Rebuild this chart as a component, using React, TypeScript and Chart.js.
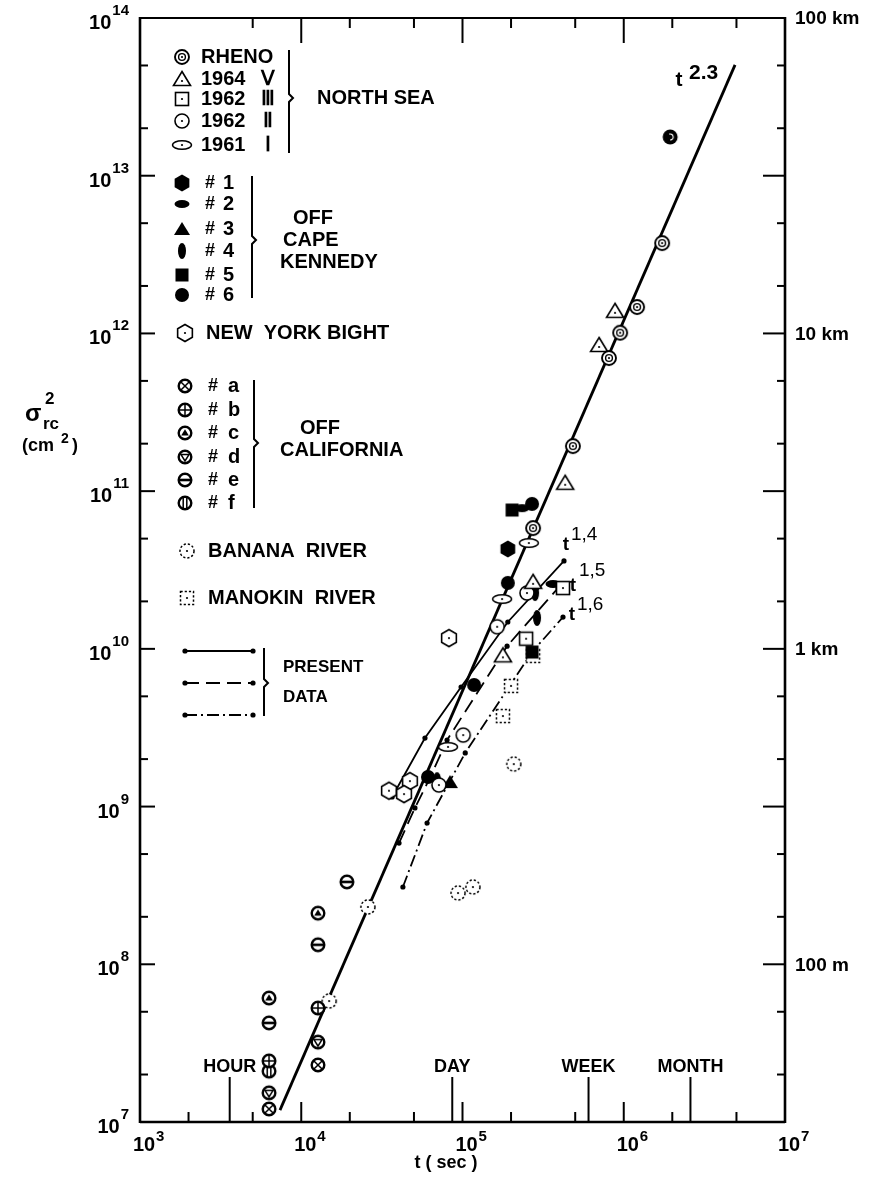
import React, { useEffect, useRef } from "react";
import { Chart, registerables } from "chart.js";

Chart.register(...registerables);

// ---------------- data: t (sec) and sigma_rc^2 (cm^2) ----------------
// NORTH SEA
const rhenoT = [1.94e6, 1.73e6, 1.21e6, 9.5e5, 8.1e5, 4.84e5, 2.74e5];
const rhenoS = [1.76e13, 3.74e12, 1.47e12, 1.01e12, 6.98e11, 1.93e11, 5.83e10];
const ns1964T = [8.83e5, 7.03e5, 4.33e5, 2.74e5, 1.78e5];
const ns1964S = [1.39e12, 8.45e11, 1.13e11, 2.66e10, 9.1e9];
const ns1962IIIT = [4.2e5, 2.48e5];
const ns1962IIIS = [2.43e10, 1.16e10];
const ns1962IIT = [2.51e5, 1.64e5, 1.01e5, 7.14e4];
const ns1962IIS = [2.26e10, 1.38e10, 2.84e9, 1.37e9];
const ns1961T = [2.58e5, 1.76e5, 8.13e4];
const ns1961S = [4.69e10, 2.07e10, 2.39e9];
// OFF CAPE KENNEDY
const cape1T = [1.91e5];
const cape1S = [4.3e10];
const cape2T = [2.34e5, 3.64e5];
const cape2S = [7.8e10, 2.58e10];
const cape3T = [8.36e4];
const cape3S = [1.43e9];
const cape4T = [2.82e5, 2.9e5, 6.95e4];
const cape4S = [2.26e10, 1.57e10, 1.47e9];
const cape5T = [2.03e5, 2.7e5];
const cape5S = [7.59e10, 9.55e9];
const cape6T = [2.7e5, 1.91e5, 1.18e5, 6.11e4];
const cape6S = [8.3e10, 2.62e10, 5.9e9, 1.54e9];
// NEW YORK BIGHT
const nyT = [8.24e4, 4.72e4, 3.5e4, 4.34e4];
const nyS = [1.17e10, 1.45e9, 1.26e9, 1.2e9];
// OFF CALIFORNIA
const calAT = [6.31e3, 1.27e4];
const calAS = [1.21e7, 2.3e7];
const calBT = [6.31e3, 1.27e4];
const calBS = [2.44e7, 5.28e7];
const calCT = [6.31e3, 1.27e4];
const calCS = [6.11e7, 2.11e8];
const calDT = [6.31e3, 1.27e4];
const calDS = [1.53e7, 3.21e7];
const calET = [6.31e3, 1.27e4, 1.92e4];
const calES = [4.25e7, 1.33e8, 3.33e8];
const calFT = [6.31e3];
const calFS = [2.1e7];
// BANANA RIVER, MANOKIN RIVER
const bananaT = [1.49e4, 2.59e4, 9.38e4, 1.16e5, 2.08e5];
const bananaS = [5.85e7, 2.31e8, 2.83e8, 3.09e8, 1.86e9];
const manokinT = [2.74e5, 2.0e5, 1.78e5];
const manokinS = [9.02e9, 5.82e9, 3.75e9];
// PRESENT DATA (three curves)
const presSolidT = [3.66e4, 5.85e4, 9.8e4, 1.91e5, 4.26e5];
const presSolidS = [1.15e9, 2.72e9, 5.73e9, 1.48e10, 3.61e10];
const presDashT = [4.04e4, 5.07e4, 6.28e4, 8.02e4, 1.89e5, 3.91e5];
const presDashS = [5.87e8, 9.8e8, 1.52e9, 2.64e9, 1.04e10, 2.43e10];
const presDashDotT = [4.27e4, 6.03e4, 1.04e5, 2.7e5, 4.2e5];
const presDashDotS = [3.09e8, 7.87e8, 2.19e9, 9.55e9, 1.59e10];
// t^2.3 line
const fitT = [7.38e3, 4.9e6];
const fitS = [1.19e7, 5.04e13];

// axes / labels
const xDecades = [1e3, 1e4, 1e5, 1e6, 1e7];
const yDecades = [1e7, 1e8, 1e9, 1e10, 1e11, 1e12, 1e13, 1e14];
const timeMarks = [3600, 86400, 604800, 2592000];
const timeLabels = ["HOUR", "DAY", "WEEK", "MONTH"];
const rightVals = [1e14, 1e12, 1e10, 1e8];
const rightLabels = ["100 km", "10 km", "1 km", "100 m"];
const slopeExps = ["2.3", "1,4", "1,5", "1,6"];
const northSeaLabels = ["RHENO", "1964", "1962", "1962", "1961"];
const northSeaRoman = ["", "Ⅴ", "Ⅲ", "Ⅱ", "Ⅰ"];
const capeLabels = ["1", "2", "3", "4", "5", "6"];
const califLabels = ["a", "b", "c", "d", "e", "f"];

const FONT = '"Liberation Sans", Arial, sans-serif';
const f = (size: number, w = "bold") => `${w} ${size}px ${FONT}`;

type Ctx = CanvasRenderingContext2D;

function mk(w: number, h: number, draw: (c: Ctx, cx: number, cy: number) => void) {
  const cv = document.createElement("canvas");
  cv.width = w;
  cv.height = h;
  const c = cv.getContext("2d")!;
  c.strokeStyle = "#000";
  c.fillStyle = "#000";
  c.lineWidth = 1.6;
  draw(c, w / 2, h / 2);
  return cv;
}
const dot = (c: Ctx, cx: number, cy: number) => {
  c.fillStyle = "#000";
  c.beginPath();
  c.arc(cx, cy, 1.1, 0, Math.PI * 2);
  c.fill();
};
const hexPath = (c: Ctx, cx: number, cy: number, r: number) => {
  c.beginPath();
  for (let i = 0; i < 6; i++) {
    const a = -Math.PI / 2 + (i * Math.PI) / 3;
    const px = cx + r * Math.cos(a);
    const py = cy + r * Math.sin(a);
    if (i) c.lineTo(px, py);
    else c.moveTo(px, py);
  }
  c.closePath();
};

function makeSymbols() {
  const rheno = mk(20, 20, (c, cx, cy) => {
    c.fillStyle = "#fff";
    c.beginPath();
    c.arc(cx, cy, 7, 0, Math.PI * 2);
    c.fill();
    c.lineWidth = 1.9;
    c.stroke();
    c.lineWidth = 1.4;
    c.beginPath();
    c.arc(cx, cy, 3.4, 0, Math.PI * 2);
    c.stroke();
    dot(c, cx, cy);
  });
  const rhenoDark = mk(20, 20, (c, cx, cy) => {
    c.beginPath();
    c.arc(cx, cy, 7.5, 0, Math.PI * 2);
    c.fill();
    c.strokeStyle = "#fff";
    c.lineWidth = 1.2;
    c.beginPath();
    c.arc(cx, cy, 3, -Math.PI * 0.6, Math.PI * 0.5);
    c.stroke();
  });
  const tri = mk(22, 20, (c, cx, cy) => {
    c.fillStyle = "#fff";
    c.beginPath();
    c.moveTo(cx, cy - 7.5);
    c.lineTo(cx + 8.5, cy + 6.5);
    c.lineTo(cx - 8.5, cy + 6.5);
    c.closePath();
    c.fill();
    c.stroke();
    dot(c, cx, cy + 2);
  });
  const sq = mk(18, 18, (c, cx, cy) => {
    c.fillStyle = "#fff";
    c.fillRect(cx - 6.5, cy - 6.5, 13, 13);
    c.strokeRect(cx - 6.5, cy - 6.5, 13, 13);
    dot(c, cx, cy);
  });
  const circ = mk(18, 18, (c, cx, cy) => {
    c.fillStyle = "#fff";
    c.beginPath();
    c.arc(cx, cy, 7, 0, Math.PI * 2);
    c.fill();
    c.stroke();
    dot(c, cx, cy);
  });
  const ell = mk(24, 14, (c, cx, cy) => {
    c.fillStyle = "#fff";
    c.beginPath();
    c.ellipse(cx, cy, 9.5, 4.3, 0, 0, Math.PI * 2);
    c.fill();
    c.stroke();
    dot(c, cx, cy);
  });
  const hexF = mk(20, 20, (c, cx, cy) => {
    hexPath(c, cx, cy, 8.5);
    c.fill();
  });
  const ellH = mk(20, 14, (c, cx, cy) => {
    c.beginPath();
    c.ellipse(cx, cy, 7.5, 4, 0, 0, Math.PI * 2);
    c.fill();
  });
  const triF = mk(20, 18, (c, cx, cy) => {
    c.beginPath();
    c.moveTo(cx, cy - 7);
    c.lineTo(cx + 8, cy + 6);
    c.lineTo(cx - 8, cy + 6);
    c.closePath();
    c.fill();
  });
  const ellV = mk(14, 20, (c, cx, cy) => {
    c.beginPath();
    c.ellipse(cx, cy, 4, 8, 0, 0, Math.PI * 2);
    c.fill();
  });
  const sqF = mk(16, 16, (c, cx, cy) => {
    c.fillRect(cx - 6.5, cy - 6.5, 13, 13);
  });
  const circF = mk(18, 18, (c, cx, cy) => {
    c.beginPath();
    c.arc(cx, cy, 7, 0, Math.PI * 2);
    c.fill();
  });
  const hexO = mk(22, 22, (c, cx, cy) => {
    c.fillStyle = "#fff";
    hexPath(c, cx, cy, 8.5);
    c.fill();
    c.stroke();
    dot(c, cx, cy);
  });
  const calif = (kind: string) =>
    mk(18, 18, (c, cx, cy) => {
      c.fillStyle = "#fff";
      c.beginPath();
      c.arc(cx, cy, 6.3, 0, Math.PI * 2);
      c.fill();
      c.lineWidth = 2.4;
      c.stroke();
      c.fillStyle = "#000";
      c.lineWidth = 1.5;
      c.beginPath();
      if (kind === "a") {
        c.moveTo(cx - 4.3, cy - 4.3);
        c.lineTo(cx + 4.3, cy + 4.3);
        c.moveTo(cx + 4.3, cy - 4.3);
        c.lineTo(cx - 4.3, cy + 4.3);
        c.stroke();
      } else if (kind === "b") {
        c.moveTo(cx - 6, cy);
        c.lineTo(cx + 6, cy);
        c.moveTo(cx, cy - 6);
        c.lineTo(cx, cy + 6);
        c.stroke();
      } else if (kind === "c") {
        c.moveTo(cx, cy - 3.8);
        c.lineTo(cx + 3.8, cy + 2.6);
        c.lineTo(cx - 3.8, cy + 2.6);
        c.closePath();
        c.fill();
      } else if (kind === "d") {
        c.moveTo(cx - 4, cy - 2.4);
        c.lineTo(cx + 4, cy - 2.4);
        c.lineTo(cx, cy + 4);
        c.closePath();
        c.stroke();
      } else if (kind === "e") {
        c.fillRect(cx - 6, cy - 1.3, 12, 2.6);
      } else {
        c.moveTo(cx - 1.8, cy - 6);
        c.lineTo(cx - 1.8, cy + 6);
        c.moveTo(cx + 1.8, cy - 6);
        c.lineTo(cx + 1.8, cy + 6);
        c.stroke();
      }
    });
  const banana = mk(18, 18, (c, cx, cy) => {
    c.fillStyle = "#fff";
    c.beginPath();
    c.arc(cx, cy, 7, 0, Math.PI * 2);
    c.fill();
    c.setLineDash([2.2, 2]);
    c.lineWidth = 1.5;
    c.stroke();
    c.setLineDash([]);
    dot(c, cx, cy);
  });
  const manokin = mk(18, 18, (c, cx, cy) => {
    c.fillStyle = "#fff";
    c.fillRect(cx - 6.5, cy - 6.5, 13, 13);
    c.setLineDash([2.2, 2]);
    c.lineWidth = 1.5;
    c.strokeRect(cx - 6.5, cy - 6.5, 13, 13);
    c.setLineDash([]);
    dot(c, cx, cy);
  });
  return {
    rheno, rhenoDark, tri, sq, circ, ell, hexF, ellH, triF, ellV, sqF, circF, hexO,
    calA: calif("a"), calB: calif("b"), calC: calif("c"), calD: calif("d"), calE: calif("e"), calF: calif("f"),
    banana, manokin,
  };
}

const pts = (T: number[], S: number[]) => T.map((t, i) => ({ x: t, y: S[i] }));

export default function App() {
  const ref = useRef<HTMLCanvasElement>(null);

  useEffect(() => {
    const canvas = ref.current!;
    const sym = makeSymbols();

    const sc = (T: number[], S: number[], style: any) => ({
      data: pts(T, S),
      pointStyle: style,
      pointRadius: 8,
      pointHoverRadius: 8,
      showLine: false,
      order: 0,
    });
    const ln = (T: number[], S: number[], dash: number[], width: number, pr: number, order: number) => ({
      data: pts(T, S),
      showLine: true,
      fill: false,
      borderColor: "#000",
      borderWidth: width,
      borderDash: dash,
      pointStyle: "circle",
      pointRadius: pr,
      pointHoverRadius: pr,
      pointBackgroundColor: "#000",
      pointBorderColor: "#000",
      pointBorderWidth: 0,
      order,
    });

    const decor = {
      id: "decor",
      afterDraw(chart: any) {
        const ctx: Ctx = chart.ctx;
        const a = chart.chartArea;
        const xs = chart.scales.x;
        const ys = chart.scales.y;
        ctx.save();
        ctx.fillStyle = "#000";
        ctx.strokeStyle = "#000";
        ctx.lineCap = "butt";

        const line = (x1: number, y1: number, x2: number, y2: number, w: number) => {
          ctx.lineWidth = w;
          ctx.beginPath();
          ctx.moveTo(x1, y1);
          ctx.lineTo(x2, y2);
          ctx.stroke();
        };
        const text = (s: string, x: number, y: number, font: string, align: CanvasTextAlign = "left", base: CanvasTextBaseline = "middle") => {
          ctx.font = font;
          ctx.textAlign = align;
          ctx.textBaseline = base;
          ctx.fillText(s, x, y);
        };
        const sup = (base: string, exp: string, x: number, y: number, bf: string, ef: string, align: string, rise: number) => {
          ctx.font = bf;
          const bw = ctx.measureText(base).width;
          ctx.font = ef;
          const ew = ctx.measureText(exp).width;
          const x0 = align === "left" ? x : align === "center" ? x - bw / 2 : x - bw - ew - 1;
          text(base, x0, y, bf, "left", "alphabetic");
          text(exp, x0 + bw + 1, y - rise, ef, "left", "alphabetic");
        };
        const img = (im: HTMLCanvasElement, x: number, y: number) => ctx.drawImage(im, x - im.width / 2, y - im.height / 2);
        const brace = (x: number, y0: number, y1: number, ym: number) => {
          ctx.lineWidth = 2;
          ctx.beginPath();
          ctx.moveTo(x, y0);
          ctx.lineTo(x, ym - 4);
          ctx.lineTo(x + 4, ym);
          ctx.lineTo(x, ym + 4);
          ctx.lineTo(x, y1);
          ctx.stroke();
        };

        // frame
        line(a.left, a.top - 1, a.left, a.bottom + 1, 2.6);
        line(a.right, a.top - 1, a.right, a.bottom + 1, 2.6);
        line(a.left, a.bottom, a.right, a.bottom, 2.6);
        line(a.left, a.top, a.right, a.top, 2);

        // x ticks
        xDecades.forEach((d, i) => {
          const px = xs.getPixelForValue(d);
          if (i > 0 && i < xDecades.length - 1) {
            line(px, a.bottom, px, a.bottom - 20, 2);
            line(px, a.top, px, a.top + 25, 2);
          }
          if (i < xDecades.length - 1) {
            [2, 5].forEach((m) => {
              const q = xs.getPixelForValue(d * m);
              line(q, a.bottom, q, a.bottom - 10, 2);
              if (!(i === 0 && m === 2)) line(q, a.top, q, a.top + 10, 2);
            });
          }
          sup("10", String(Math.round(Math.log10(d))), px + 4, a.bottom + 29, f(20), f(15), "center", 10);
        });
        timeMarks.forEach((t, i) => {
          const px = xs.getPixelForValue(t);
          line(px, a.bottom, px, a.bottom - 45, 2);
          text(timeLabels[i], px, a.bottom - 55, f(18), "center");
        });
        text("t ( sec )", 446, 1163, f(18), "center");

        // y ticks
        yDecades.forEach((d, i) => {
          const py = ys.getPixelForValue(d);
          if (i > 0 && i < yDecades.length - 1) {
            line(a.left, py, a.left + 15, py, 2);
            line(a.right, py, a.right - 22, py, 2);
          }
          if (i < yDecades.length - 1) {
            [2, 5].forEach((m) => {
              const q = ys.getPixelForValue(d * m);
              line(a.left, q, a.left + 8, q, 2);
              line(a.right, q, a.right - 8, q, 2);
            });
          }
          sup("10", String(Math.round(Math.log10(d))), 129, py + 11, f(20), f(15), "right", 14);
        });
        rightVals.forEach((v, i) => {
          text(rightLabels[i], a.right + 10, ys.getPixelForValue(v) + 1, f(19));
        });

        // y title
        text("σ", 25, 414, f(24));
        text("2", 45, 399, f(17));
        text("rc", 43, 424, f(17));
        text("(cm", 22, 446, f(18));
        text("2", 61, 439, f(14));
        text(")", 72, 446, f(18));

        // slope labels
        const ends = [
          { T: fitT, S: fitS, t: [-56, 15], e: [-46, 8], fs: 21 },
          { T: presSolidT, S: presSolidS, t: [2, -16], e: [7, -26], fs: 19 },
          { T: presDashT, S: presDashS, t: [15, -2], e: [21, -17], fs: 19 },
          { T: presDashDotT, S: presDashDotS, t: [9, -2], e: [14, -12], fs: 19 },
        ];
        ends.forEach((en, i) => {
          const n = en.T.length - 1;
          const px = xs.getPixelForValue(en.T[n]);
          const py = ys.getPixelForValue(en.S[n]);
          text("t", px + en.t[0], py + en.t[1], f(en.fs), "center");
          text(slopeExps[i], px + en.e[0], py + en.e[1], f(en.fs, i === 0 ? "bold" : "normal"), "left");
        });

        // legend: North Sea
        const nsSyms = [sym.rheno, sym.tri, sym.sq, sym.circ, sym.ell];
        const nsY = [57, 79, 99, 121, 145];
        nsSyms.forEach((s, i) => {
          img(s, 182, nsY[i]);
          text(northSeaLabels[i], 201, nsY[i], f(20));
          if (northSeaRoman[i]) text(northSeaRoman[i], 268, nsY[i], f(20), "center");
        });
        brace(289, 50, 153, 98);
        text("NORTH SEA", 317, 98, f(20));

        // Cape Kennedy
        const ckSyms = [sym.hexF, sym.ellH, sym.triF, sym.ellV, sym.sqF, sym.circF];
        const ckY = [183, 204, 229, 251, 275, 295];
        ckSyms.forEach((s, i) => {
          img(s, 182, ckY[i]);
          text("#", 210, ckY[i], f(18), "center");
          text(capeLabels[i], 223, ckY[i], f(20));
        });
        brace(252, 176, 298, 240);
        text("OFF", 293, 218, f(20));
        text("CAPE", 283, 240, f(20));
        text("KENNEDY", 280, 262, f(20));

        // New York Bight
        img(sym.hexO, 185, 333);
        text("NEW  YORK BIGHT", 206, 333, f(20));

        // Off California
        const caSyms = [sym.calA, sym.calB, sym.calC, sym.calD, sym.calE, sym.calF];
        const caY = [386, 410, 433, 457, 480, 503];
        caSyms.forEach((s, i) => {
          img(s, 185, caY[i]);
          text("#", 213, caY[i], f(18), "center");
          text(califLabels[i], 228, caY[i], f(20));
        });
        brace(254, 380, 508, 443);
        text("OFF", 300, 428, f(20));
        text("CALIFORNIA", 280, 450, f(20));

        img(sym.banana, 187, 551);
        text("BANANA  RIVER", 208, 551, f(20));
        img(sym.manokin, 187, 598);
        text("MANOKIN  RIVER", 208, 598, f(20));

        // present data legend
        const dashes = [[], [14, 7], [12, 4, 2, 4]];
        [651, 683, 715].forEach((yy, i) => {
          ctx.setLineDash(dashes[i]);
          line(185, yy, 253, yy, 1.8);
          ctx.setLineDash([]);
          [185, 253].forEach((xx) => {
            ctx.beginPath();
            ctx.arc(xx, yy, 2.6, 0, Math.PI * 2);
            ctx.fill();
          });
        });
        brace(264, 648, 716, 683);
        text("PRESENT", 283, 667, f(17));
        text("DATA", 283, 697, f(17));

        ctx.restore();
      },
    };

    const rhenoStyles = rhenoT.map((_, i) => (i === 0 ? sym.rhenoDark : sym.rheno));

    const chart = new Chart(canvas, {
      type: "scatter",
      data: {
        datasets: [
          ln(fitT, fitS, [], 2.8, 0, 10),
          ln(presSolidT, presSolidS, [], 1.8, 2.6, 5),
          ln(presDashT, presDashS, [14, 7], 1.8, 2.6, 5),
          ln(presDashDotT, presDashDotS, [12, 4, 2, 4], 1.8, 2.6, 5),
          sc(rhenoT, rhenoS, rhenoStyles),
          sc(ns1964T, ns1964S, sym.tri),
          sc(ns1962IIIT, ns1962IIIS, sym.sq),
          sc(ns1962IIT, ns1962IIS, sym.circ),
          sc(ns1961T, ns1961S, sym.ell),
          sc(cape1T, cape1S, sym.hexF),
          sc(cape2T, cape2S, sym.ellH),
          sc(cape3T, cape3S, sym.triF),
          sc(cape4T, cape4S, sym.ellV),
          sc(cape5T, cape5S, sym.sqF),
          sc(cape6T, cape6S, sym.circF),
          sc(nyT, nyS, sym.hexO),
          sc(calAT, calAS, sym.calA),
          sc(calBT, calBS, sym.calB),
          sc(calCT, calCS, sym.calC),
          sc(calDT, calDS, sym.calD),
          sc(calET, calES, sym.calE),
          sc(calFT, calFS, sym.calF),
          sc(bananaT, bananaS, sym.banana),
          sc(manokinT, manokinS, sym.manokin),
        ] as any,
      },
      options: {
        responsive: false,
        animation: false,
        events: [],
        layout: { padding: { left: 140, right: 84, top: 18, bottom: 60 } },
        plugins: { legend: { display: false }, tooltip: { enabled: false } },
        scales: {
          x: { type: "logarithmic", min: 1e3, max: 1e7, display: false },
          y: { type: "logarithmic", min: 1e7, max: 1e14, display: false },
        },
      } as any,
      plugins: [decor],
    });
    return () => chart.destroy();
  }, []);

  return (
    <div style={{ position: "fixed", left: 0, top: 0, width: 869, height: 1182, background: "#fff" }}>
      <canvas ref={ref} width={869} height={1182} style={{ display: "block", width: 869, height: 1182 }} />
    </div>
  );
}
